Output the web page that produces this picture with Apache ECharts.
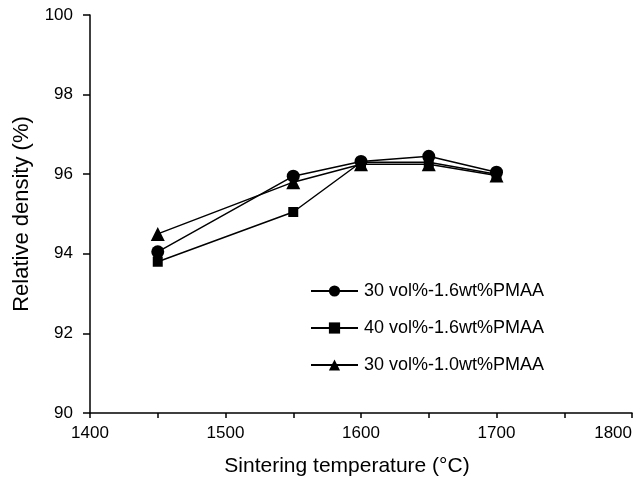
<!DOCTYPE html>
<html>
<head>
<meta charset="utf-8">
<script src="https://cdn.jsdelivr.net/npm/echarts@6/dist/echarts.min.js"></script>
<style>
  html, body { margin: 0; padding: 0; background: #fff; }
  #chart { width: 637px; height: 482px; }
</style>
</head>
<body>
<div id="chart"></div>
<script>
// 烧结温度 (°C)
const temps = [1450, 1550, 1600, 1650, 1700];
// 相对密度 (%)
const circle30v16 = [94.05, 95.95, 96.32, 96.45, 96.05];
const square40v16 = [93.8, 95.05, 96.3, 96.3, 96.0];
const triangle30v10 = [94.5, 95.8, 96.25, 96.25, 95.97];
const seriesNames = ['30 vol%-1.6wt%PMAA', '40 vol%-1.6wt%PMAA', '30 vol%-1.0wt%PMAA'];

const font = 'Liberation Sans, Arial, sans-serif';
const pair = (ys) => temps.map((t, i) => [t, ys[i]]);

const makeSeries = (name, ys, symbol, size) => ({
  name,
  type: 'line',
  data: pair(ys),
  symbol,
  symbolSize: size,
  itemStyle: { color: '#000' },
  lineStyle: { color: '#000', width: 1.5 },
  emphasis: { disabled: true },
  animation: false,
});

const chart = echarts.init(document.getElementById('chart'));
chart.setOption({
  backgroundColor: '#fff',
  grid: { left: 90, right: 5, top: 15, bottom: 66 },
  legend: {
    orient: 'vertical',
    left: 305,
    top: 277,
    itemWidth: 47,
    itemHeight: 14,
    itemGap: 19,
    textStyle: { fontFamily: font, fontSize: 18, lineHeight: 18, color: '#000', padding: [0, 0, 0, 1] },
    data: seriesNames,
  },
  xAxis: {
    type: 'value',
    min: 1400,
    max: 1800,
    interval: 100,
    name: 'Sintering temperature (°C)',
    nameLocation: 'middle',
    nameGap: 43,
    nameTextStyle: { fontFamily: font, fontSize: 21, color: '#000', padding: [0, 28, 0, 0] },
    axisLine: { lineStyle: { color: '#000', width: 1.5 } },
    axisTick: { show: true, length: 5, lineStyle: { color: '#000', width: 1.5 } },
    minorTick: { show: true, splitNumber: 2, length: 5, lineStyle: { color: '#000', width: 1.5 } },
    axisLabel: {
      fontFamily: font, fontSize: 17, color: '#000', margin: 12,
      alignMaxLabel: 'right',
      formatter: (v) => String(v),
    },
    splitLine: { show: false },
  },
  yAxis: {
    type: 'value',
    min: 90,
    max: 100,
    interval: 2,
    name: 'Relative density (%)',
    nameLocation: 'middle',
    nameGap: 57,
    nameTextStyle: { fontFamily: font, fontSize: 22, color: '#000' },
    axisLine: { show: true, lineStyle: { color: '#000', width: 1.5 } },
    axisTick: { show: true, length: 7, lineStyle: { color: '#000', width: 1.5 } },
    axisLabel: { fontFamily: font, fontSize: 17, color: '#000', margin: 17, formatter: (v) => String(v) },
    splitLine: { show: false },
  },
  series: [
    makeSeries(seriesNames[0], circle30v16, 'circle', 13),
    makeSeries(seriesNames[1], square40v16, 'rect', 10),
    makeSeries(seriesNames[2], triangle30v10, 'triangle', 14),
  ],
});
</script>
</body>
</html>
